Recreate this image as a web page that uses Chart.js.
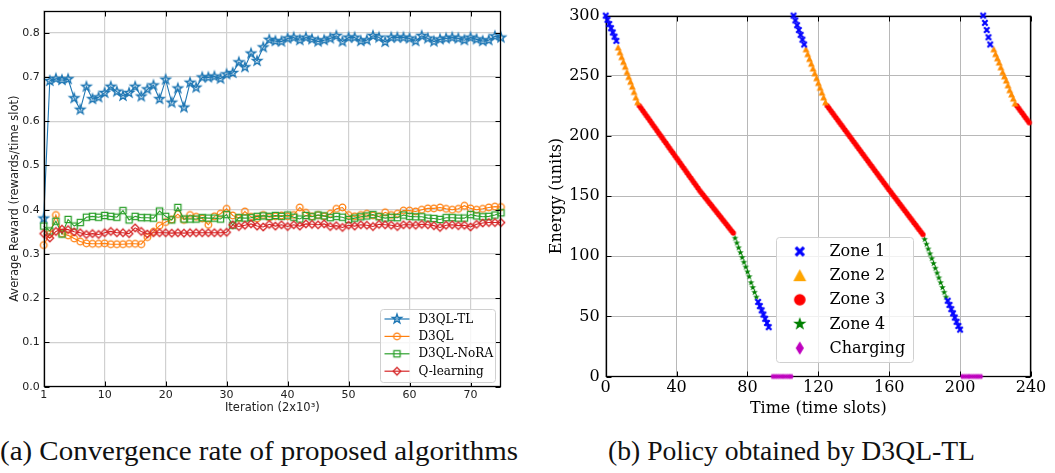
<!DOCTYPE html>
<html><head><meta charset="utf-8">
<script src="https://cdn.jsdelivr.net/npm/chart.js@4.4.1/dist/chart.umd.min.js"></script>
<style>
html,body{margin:0;padding:0;background:#fff;}
body{width:1055px;height:473px;position:relative;overflow:hidden;}
#ca{position:absolute;left:0;top:0;}
#cb{position:absolute;left:540px;top:0;}
.cap{position:absolute;top:434px;font-family:"Liberation Serif","Times New Roman",serif;font-size:28px;white-space:nowrap;color:#111;transform-origin:0 0;line-height:34px;}
#capA{left:0;}
#capB{left:608px;}
</style></head><body>
<canvas id="ca" width="520" height="420"></canvas>
<canvas id="cb" width="515" height="420"></canvas>
<div class="cap" id="capA">(a) Convergence rate of proposed algorithms</div>
<div class="cap" id="capB">(b) Policy obtained by D3QL-TL</div>
<script>
// ---------- (a) data ----------
const iterations = [0,1,2,3,4,5,6,7,8,9,10,11,12,13,14,15,16,17,18,19,20,21,22,23,24,25,26,27,28,29,30,31,32,33,34,35,36,37,38,39,40,41,42,43,44,45,46,47,48,49,50,51,52,53,54,55,56,57,58,59,60,61,62,63,64,65,66,67,68,69,70,71,72,73,74,75];
const d3qlTL = [0.380,0.691,0.696,0.693,0.695,0.652,0.626,0.678,0.650,0.654,0.664,0.678,0.667,0.657,0.664,0.678,0.656,0.672,0.681,0.650,0.694,0.642,0.674,0.631,0.687,0.676,0.699,0.699,0.701,0.696,0.706,0.709,0.733,0.722,0.753,0.736,0.767,0.784,0.781,0.780,0.787,0.789,0.783,0.789,0.785,0.780,0.783,0.787,0.793,0.780,0.789,0.789,0.781,0.783,0.793,0.789,0.779,0.789,0.789,0.789,0.787,0.781,0.793,0.787,0.780,0.785,0.787,0.789,0.787,0.783,0.789,0.785,0.781,0.783,0.792,0.789];
const d3ql = [0.320,0.345,0.388,0.346,0.342,0.335,0.328,0.324,0.323,0.323,0.324,0.322,0.322,0.322,0.323,0.323,0.322,0.338,0.350,0.364,0.372,0.378,0.390,0.377,0.388,0.384,0.380,0.366,0.385,0.391,0.402,0.387,0.381,0.396,0.384,0.380,0.388,0.383,0.385,0.387,0.385,0.388,0.405,0.393,0.385,0.388,0.385,0.391,0.402,0.405,0.388,0.385,0.388,0.391,0.387,0.385,0.394,0.388,0.391,0.398,0.398,0.396,0.400,0.403,0.403,0.405,0.402,0.400,0.402,0.409,0.403,0.400,0.402,0.405,0.407,0.406];
const d3qlNoRA = [0.363,0.352,0.374,0.345,0.378,0.363,0.371,0.383,0.385,0.383,0.387,0.385,0.383,0.398,0.377,0.385,0.382,0.382,0.381,0.397,0.385,0.377,0.405,0.379,0.379,0.379,0.382,0.381,0.381,0.379,0.389,0.365,0.382,0.381,0.382,0.385,0.386,0.385,0.387,0.385,0.388,0.383,0.379,0.387,0.384,0.388,0.386,0.382,0.385,0.383,0.378,0.381,0.384,0.386,0.389,0.384,0.381,0.383,0.382,0.388,0.385,0.384,0.384,0.381,0.380,0.378,0.382,0.382,0.381,0.381,0.389,0.386,0.384,0.385,0.388,0.393];
const qLearning = [0.346,0.336,0.351,0.356,0.355,0.350,0.348,0.344,0.346,0.344,0.348,0.351,0.348,0.348,0.346,0.359,0.351,0.345,0.348,0.348,0.348,0.347,0.348,0.347,0.348,0.348,0.348,0.348,0.348,0.348,0.349,0.366,0.362,0.365,0.368,0.363,0.361,0.367,0.363,0.366,0.362,0.366,0.363,0.368,0.367,0.366,0.368,0.362,0.364,0.360,0.365,0.363,0.366,0.365,0.362,0.367,0.366,0.365,0.362,0.366,0.366,0.365,0.367,0.366,0.364,0.360,0.365,0.366,0.364,0.365,0.361,0.367,0.370,0.371,0.371,0.371];
const seriesNamesA = ['D3QL-TL','D3QL','D3QL-NoRA','Q-learning'];
const xTickValuesA = [0,10,20,30,40,50,60,70];
const xTickLabelsA = ['1','10','20','30','40','50','60','70'];
const yTickValuesA = [0,0.1,0.2,0.3,0.4,0.5,0.6,0.7,0.8];

// ---------- (b) data ----------
const zone1T = [0,1,2,3,4,5,6,86,87,88,89,90,91,92,106,107,108,109,110,111,112,193,194,195,196,197,198,199,200,213,214,215,216,217];
const zone1E = [300,296.5,293,289.5,286,282.5,279,62,58.5,55,51.5,48,44.5,41,300,296,292,288,284,280,276,63,59.5,56,52.5,49,45.5,42,39,300,294,288,282,276];
const zone2T = [7,8,9,10,11,12,13,14,15,16,17,18,113,114,115,116,117,118,119,120,121,122,123,124,219,220,221,222,223,224,225,226,227,228,229,230,231];
const zone2E = [273.5,269.5,265.5,261.5,257.5,253,249,245,241,236.5,232,228,272,268,264,260,256,252,248,244,240,236,232,228,272,268,264.5,261,257,253,249.5,246,242,238,234.5,231,227];
const zone3T = [19,20,21,22,23,24,25,26,27,28,29,30,31,32,33,34,35,36,37,38,39,40,41,42,43,44,45,46,47,48,49,50,51,52,53,54,55,56,57,58,59,60,61,62,63,64,65,66,67,68,69,70,71,72,
125,126,127,128,129,130,131,132,133,134,135,136,137,138,139,140,141,142,143,144,145,146,147,148,149,150,151,152,153,154,155,156,157,158,159,160,161,162,163,164,165,166,167,168,169,170,171,172,173,174,175,176,177,178,179,
232,233,234,235,236,237,238,239];
const zone3E = [225.0,222.9,220.9,218.8,216.7,214.7,212.6,210.5,208.4,206.4,204.3,202.2,200.2,198.1,196.0,194.0,191.9,189.8,187.7,185.7,183.6,181.5,179.5,177.4,175.3,173.3,171.2,169.1,167.0,165.0,162.9,160.8,158.8,156.7,154.6,152.7,150.9,149.0,147.2,145.3,143.4,141.6,139.7,137.9,136.0,134.1,132.3,130.4,128.6,126.7,124.8,123.0,121.1,119.3,
225,223,221,219,217,215,213,211,209,207,205,203,201,199,197,195,193,191,189,187,185,183,181,179,177,175,173,171,169,167,165,163,161,159,157,155,153.1,151.1,149.2,147.2,145.3,143.3,141.4,139.4,137.5,135.5,133.6,131.6,129.7,127.7,125.8,123.8,121.9,119.9,118.0,
225,223,221,219,217,215,213,211];
const zone4T = [73,74,75,76,77,78,79,80,81,82,83,84,85,180,181,182,183,184,185,186,187,188,189,190,191,192];
const zone4E = [115,111,107,103,99,95,91,87,83,78,74,70,66,114,110,106,102,98,94,90,86,82,78,74,70,66];
const chargeT = [94,95,96,97,98,99,100,101,102,103,104,105,201,202,203,204,205,206,207,208,209,210,211,212];
const chargeE = [0,0,0,0,0,0,0,0,0,0,0,0,0,0,0,0,0,0,0,0,0,0,0,0];
const zoneNames = ['Zone 1','Zone 2','Zone 3','Zone 4','Charging'];

// ---------- marker images ----------
function mk(shape, s, fill, stroke, lw){
  const pad = Math.ceil(lw) + 2;
  const w = Math.ceil(2*s + 2*pad);
  const c = document.createElement('canvas'); c.width = w; c.height = w;
  const g = c.getContext('2d');
  g.translate(w/2, w/2);
  g.beginPath();
  if (shape === 'star') {
    for (let k = 0; k < 10; k++) { const r = k%2 ? s*0.40 : s; const a = -Math.PI/2 + k*Math.PI/5; g.lineTo(r*Math.cos(a), r*Math.sin(a)); }
    g.closePath();
  } else if (shape === 'X') {
    g.rotate(Math.PI/4); const t = s*0.36, L = s*1.25;
    g.rect(-L,-t,2*L,2*t); g.rect(-t,-L,2*t,2*L);
  } else if (shape === 'tri') {
    g.moveTo(0,-s); g.lineTo(s,s*0.85); g.lineTo(-s,s*0.85); g.closePath();
  } else if (shape === 'circle') {
    g.arc(0,0,s,0,Math.PI*2);
  } else if (shape === 'square') {
    g.rect(-s,-s,2*s,2*s);
  } else if (shape === 'diamond') {
    g.moveTo(0,-s); g.lineTo(s,0); g.lineTo(0,s); g.lineTo(-s,0); g.closePath();
  } else if (shape === 'thin') {
    g.moveTo(0,-s); g.lineTo(s*0.6,0); g.lineTo(0,s); g.lineTo(-s*0.6,0); g.closePath();
  }
  if (fill) { g.fillStyle = fill; g.fill('nonzero'); }
  if (stroke) { g.strokeStyle = stroke; g.lineWidth = lw; g.stroke(); }
  return c;
}
const colA = ['#1f77b4','#ff7f0e','#2ca02c','#d62728'];
const mkA = [mk('star',4.8,null,colA[0],1.4), mk('circle',3.3,null,colA[1],1.3), mk('square',3.1,null,colA[2],1.3), mk('diamond',3.8,null,colA[3],1.3)];
const colB = ['#0000ff','#ff8c00','#ff0000','#008000','#bf00bf'];
const mkB = [mk('X',3.0,colB[0],null,0), mk('tri',3.4,colB[1],null,0), mk('circle',2.7,colB[2],null,0), mk('star',3.5,colB[3],null,0), mk('thin',3.0,colB[4],null,0)];
const mkBL = [mk('X',4.6,colB[0],null,0), mk('tri',6.5,'#ffa500',null,0), mk('circle',5.8,colB[2],null,0), mk('star',7,colB[3],null,0), mk('thin',6.8,colB[4],null,0)];

function drawFrame(chart, len, lw){
  const ctx = chart.ctx, a = chart.chartArea, x = chart.scales.x, y = chart.scales.y;
  const L = Math.round(a.left)+0.5, R = Math.round(a.right)-0.5, T = Math.round(a.top)+0.5, B = Math.round(a.bottom)-0.5;
  ctx.save(); ctx.strokeStyle = '#000'; ctx.lineWidth = 1; ctx.beginPath();
  x.ticks.forEach(t => { const p = Math.round(x.getPixelForValue(t.value))+0.5; ctx.moveTo(p,B); ctx.lineTo(p,B-len); ctx.moveTo(p,T); ctx.lineTo(p,T+len); });
  y.ticks.forEach(t => { const p = Math.round(y.getPixelForValue(t.value))+0.5; ctx.moveTo(L,p); ctx.lineTo(L+len,p); ctx.moveTo(R,p); ctx.lineTo(R-len,p); });
  ctx.stroke();
  ctx.lineWidth = lw; ctx.strokeRect(L, T, R-L, B-T);
  ctx.restore();
}
const frameAbove = { id:'frameAbove', afterDatasetsDraw(chart){ drawFrame(chart, 5, 1.3); } };
const frameBelow = { id:'frameBelow', beforeDatasetsDraw(chart){ drawFrame(chart, 5, 1.3); } };
function roundBox(ctx, x, y, w, h, r){
  ctx.beginPath(); ctx.moveTo(x+r,y); ctx.lineTo(x+w-r,y); ctx.arcTo(x+w,y,x+w,y+r,r); ctx.lineTo(x+w,y+h-r); ctx.arcTo(x+w,y+h,x+w-r,y+h,r);
  ctx.lineTo(x+r,y+h); ctx.arcTo(x,y+h,x,y+h-r,r); ctx.lineTo(x,y+r); ctx.arcTo(x,y,x+r,y,r); ctx.closePath();
}
const legendA = { id:'legA', afterDraw(chart){
  const ctx = chart.ctx, a = chart.chartArea;
  const w = 115, h = 73, bx = Math.round(a.right - 6 - w)+0.5, by = Math.round(a.bottom - 5 - h)+0.5;
  ctx.save();
  roundBox(ctx, bx, by, w, h, 3); ctx.fillStyle = 'rgba(255,255,255,0.8)'; ctx.fill(); ctx.strokeStyle = '#d0d0d0'; ctx.lineWidth = 1; ctx.stroke();
  ctx.font = '12px "DejaVu Serif"'; ctx.textBaseline = 'middle'; ctx.fillStyle = '#000';
  chart.data.datasets.forEach((ds, i) => {
    const cy = by + 9.5 + i*17.4;
    ctx.strokeStyle = ds.borderColor; ctx.lineWidth = 1.2; ctx.beginPath(); ctx.moveTo(bx+4, cy); ctx.lineTo(bx+29, cy); ctx.stroke();
    const img = ds.pointStyle; ctx.drawImage(img, bx+16.5-img.width/2, cy-img.height/2);
    ctx.fillText(ds.label, bx+38, cy+0.5);
  });
  ctx.restore();
}};
const legendB = { id:'legB', afterDraw(chart){
  const ctx = chart.ctx, a = chart.chartArea;
  const w = 137, h = 125, bx = Math.round(a.left + 170)+0.5, by = Math.round(a.top + 221)+0.5;
  ctx.save();
  roundBox(ctx, bx, by, w, h, 3); ctx.fillStyle = 'rgba(255,255,255,0.8)'; ctx.fill(); ctx.strokeStyle = '#d0d0d0'; ctx.lineWidth = 1; ctx.stroke();
  ctx.font = '16px "DejaVu Serif"'; ctx.textBaseline = 'middle'; ctx.fillStyle = '#000';
  chart.data.datasets.forEach((ds, i) => {
    const cy = by + 14 + i*24.15;
    const img = mkBL[i]; ctx.drawImage(img, bx+23.3-img.width/2, cy-img.height/2);
    ctx.fillText(ds.label, bx+53, cy+0.5);
  });
  ctx.restore();
}};

// ---------- chart (a) ----------
const dataA = [d3qlTL, d3ql, d3qlNoRA, qLearning];
new Chart(document.getElementById('ca'), {
  type: 'line',
  data: {
    labels: iterations,
    datasets: dataA.map((vals, i) => ({
      label: seriesNamesA[i], data: vals, borderColor: colA[i], backgroundColor: colA[i],
      borderWidth: 1.1, pointStyle: mkA[i], pointRadius: 4, tension: 0, clip: false, order: i === 0 ? 4 : 4 - i
    }))
  },
  options: {
    responsive: false, animation: false, devicePixelRatio: 1,
    layout: { padding: { left: 0, right: 19, top: 5, bottom: 0 } },
    plugins: { legend: { display: false }, tooltip: { enabled: false } },
    scales: {
      x: { type: 'linear', min: 0, max: 75,
        afterBuildTicks: s => { s.ticks = xTickValuesA.map(v => ({ value: v })); },
        ticks: { callback: (v) => xTickLabelsA[xTickValuesA.indexOf(v)], font: { family: 'DejaVu Sans', size: 11 }, color: '#222', padding: 2, maxRotation: 0, autoSkip: false },
        grid: { color: '#d0d0d0', lineWidth: 1.2, drawTicks: false }, border: { display: false },
        title: { display: true, text: 'Iteration (2x10³)', font: { family: 'DejaVu Sans', size: 11.5 }, color: '#222', padding: { top: 0, bottom: 5 } },
        afterFit: s => { s.height = 33.3; } },
      y: { type: 'linear', min: 0, max: 0.85,
        afterBuildTicks: s => { s.ticks = yTickValuesA.map(v => ({ value: v })); },
        ticks: { callback: v => v.toFixed(1), font: { family: 'DejaVu Sans', size: 11 }, color: '#222', padding: 4, autoSkip: false },
        grid: { color: '#d0d0d0', lineWidth: 1.2, drawTicks: false }, border: { display: false },
        title: { display: true, text: 'Average Reward (rewards/time slot)', font: { family: 'DejaVu Sans', size: 11.5 }, color: '#222', padding: { top: 8, bottom: 0 } },
        afterFit: s => { s.width = 43.7; } }
    }
  },
  plugins: [frameAbove, legendA]
});

// ---------- chart (b) ----------
const zonesT = [zone1T, zone2T, zone3T, zone4T, chargeT];
const zonesE = [zone1E, zone2E, zone3E, zone4E, chargeE];
new Chart(document.getElementById('cb'), {
  type: 'scatter',
  data: {
    datasets: zonesT.map((ts, i) => ({
      label: zoneNames[i], data: ts.map((t, j) => ({ x: t, y: zonesE[i][j] })),
      pointStyle: mkB[i], pointRadius: 3, backgroundColor: colB[i], borderColor: colB[i], clip: false, showLine: false
    }))
  },
  options: {
    responsive: false, animation: false, devicePixelRatio: 1,
    layout: { padding: { left: 0, right: 24, top: 11.7, bottom: 0 } },
    plugins: { legend: { display: false }, tooltip: { enabled: false } },
    scales: {
      x: { type: 'linear', min: 0, max: 240,
        ticks: { stepSize: 40, font: { family: 'DejaVu Serif', size: 16 }, color: '#000', padding: 2, maxRotation: 0, autoSkip: false },
        grid: { color: '#b8b8b8', lineWidth: 1, drawTicks: false }, border: { display: false },
        title: { display: true, text: 'Time (time slots)', font: { family: 'DejaVu Serif', size: 16 }, color: '#000', padding: { top: 0, bottom: 2 } },
        afterFit: s => { s.height = 43.5; } },
      y: { type: 'linear', min: 0, max: 300,
        ticks: { stepSize: 50, font: { family: 'DejaVu Serif', size: 16 }, color: '#000', padding: 6, autoSkip: false },
        grid: { color: '#b8b8b8', lineWidth: 1, drawTicks: false }, border: { display: false },
        title: { display: true, text: 'Energy (units)', font: { family: 'DejaVu Serif', size: 16 }, color: '#000', padding: { top: 7, bottom: 0 } },
        afterFit: s => { s.width = 65.7; } }
    }
  },
  plugins: [frameBelow, legendB]
});

// captions fitted to the reference widths
function fit(id, target){ const el = document.getElementById(id); const w = el.getBoundingClientRect().width; el.style.transform = 'scaleX(' + (target / w) + ')'; }
fit('capA', 518); fit('capB', 367);
</script>
</body></html>
